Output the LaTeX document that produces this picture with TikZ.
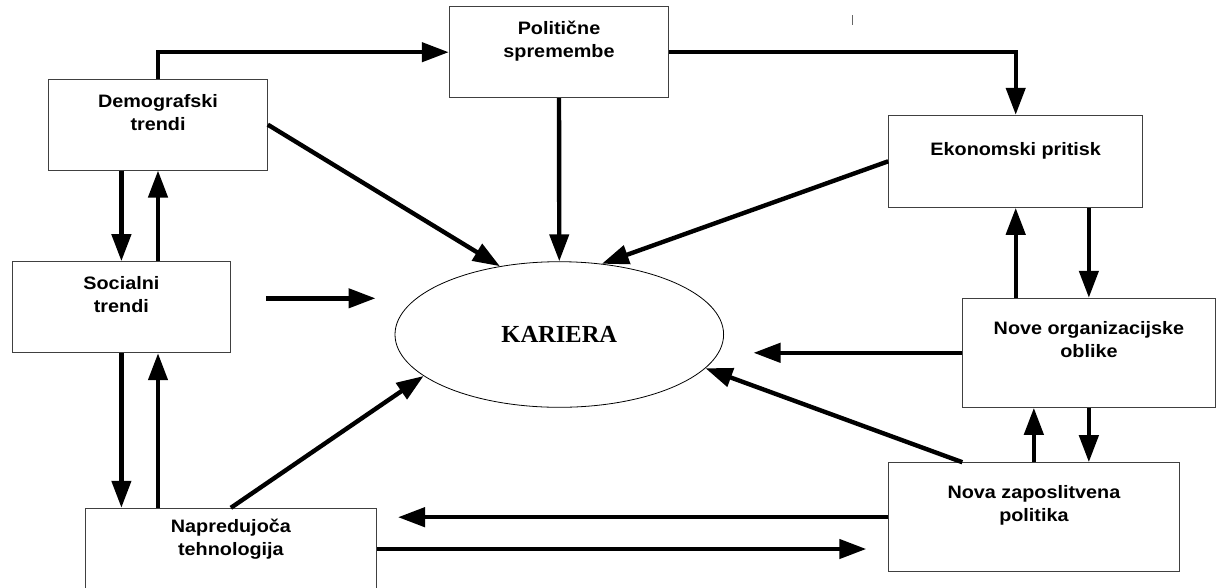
\documentclass[tikz,border=0pt]{standalone}
\usepackage{fontspec}
\setmainfont{Liberation Sans}[FakeStretch=1.1]
\newfontfamily\karfont{Liberation Serif}
\usetikzlibrary{arrows.meta,shapes.geometric,calc}

\begin{document}
\begin{tikzpicture}[x=1pt,y=-1pt,
  box/.style={draw=black!75, line width=1pt, rectangle, inner sep=0pt},
  lbl/.style={anchor=base, align=center, inner sep=0pt,
    font=\bfseries\fontsize{18pt}{22.8pt}\selectfont},
  arr/.style={line width=4.4pt, -{Triangle[length=27pt,width=19pt]}}]
\useasboundingbox (0,0) rectangle (1222,587);
\begin{scope}
\clip (0,0) rectangle (1222,587);

% factor boxes
\node[box, minimum width=219.4pt, minimum height=91pt]   (pol)  at (559,52.2) {};
\node[box, minimum width=218.6pt, minimum height=90.7pt] (demo) at (158,124.65) {};
\node[box, minimum width=254pt,   minimum height=92pt]   (ekon) at (1015.7,161.3) {};
\node[box, minimum width=218.4pt, minimum height=91pt]   (soc)  at (121.4,307.2) {};
\node[box, minimum width=253.7pt, minimum height=109pt]  (nove) at (1088.85,352.8) {};
\node[box, minimum width=290.3pt, minimum height=109pt]  (nova) at (1033.85,517.2) {};
\node[box, minimum width=291.7pt, minimum height=81.4pt] (nap)  at (230.85,549) {};

% box captions (anchored at the baseline of the last line)
\node[lbl] (pol-t)  at (559,57.5)     {Politične\\spremembe};
\node[lbl] (demo-t) at (158,130.5)    {Demografski\\trendi};
\node[lbl] (ekon-t) at (1015.7,155.5) {Ekonomski pritisk};
\node[lbl] (soc-t)  at (121.4,312.5)  {Socialni\\trendi};
\node[lbl] (nove-t) at (1088.9,357.5) {Nove organizacijske\\oblike};
\node[lbl] (nova-t) at (1033.9,521)   {Nova zaposlitvena\\politika};
\node[lbl] (nap-t)  at (230.9,555.5)  {Napredujoča\\tehnologija};

% central ellipse
\node[ellipse, draw, line width=0.8pt, inner sep=0pt,
      minimum width=328.6pt, minimum height=145.6pt,
      font=\karfont\bfseries\fontsize{24.5pt}{28pt}\selectfont] (kar) at (559.3,334.5) {KARIERA};

% free arrow ends
\coordinate (s0) at (266,298.3);
\coordinate (s1) at (375.5,298.3);
\coordinate (o1) at (753.5,352.8);
\coordinate (t1) at (398,517.2);
\coordinate (t2) at (866.3,549);

% influences on the career
\draw[arr] (pol.south) -- (kar.north);
\draw[arr] (demo.east) -- (kar.131);
\draw[arr] (ekon.west) -- (kar.59);
\draw[arr] (s0) -- (s1);
\draw[arr] (nap.north) -- (kar.197);
\draw[arr] (nove.west) -- (o1);
\draw[arr] ($(nova.north west)+(74.1,0)$) -- (kar.347.5);

% links between factors
\draw[arr] (demo.north) |- (pol.west);
\draw[arr] (pol.east) -| (ekon.north);
\draw[arr] (soc.north |- demo.south) -- (soc.north);
\draw[arr] (demo.south |- soc.north) -- (demo.south);
\draw[arr] (soc.south) -- (soc.south |- nap.north);
\draw[arr] (demo.south |- nap.north) -- (demo.south |- soc.south);
\draw[arr] (ekon.south |- nove.north) -- (ekon.south);
\draw[arr] (nove.north |- ekon.south) -- (nove.north);
\draw[arr] (nova.north) -- (nova.north |- nove.south);
\draw[arr] (nove.south) -- (nove.south |- nova.north);
\draw[arr] (nova.west) -- (t1);
\draw[arr] (nap.east) -- (t2);

% small stroke near the top
\draw[black!60, line width=1pt] (852,15) -- (852,25);
\end{scope}
\end{tikzpicture}
\end{document}
